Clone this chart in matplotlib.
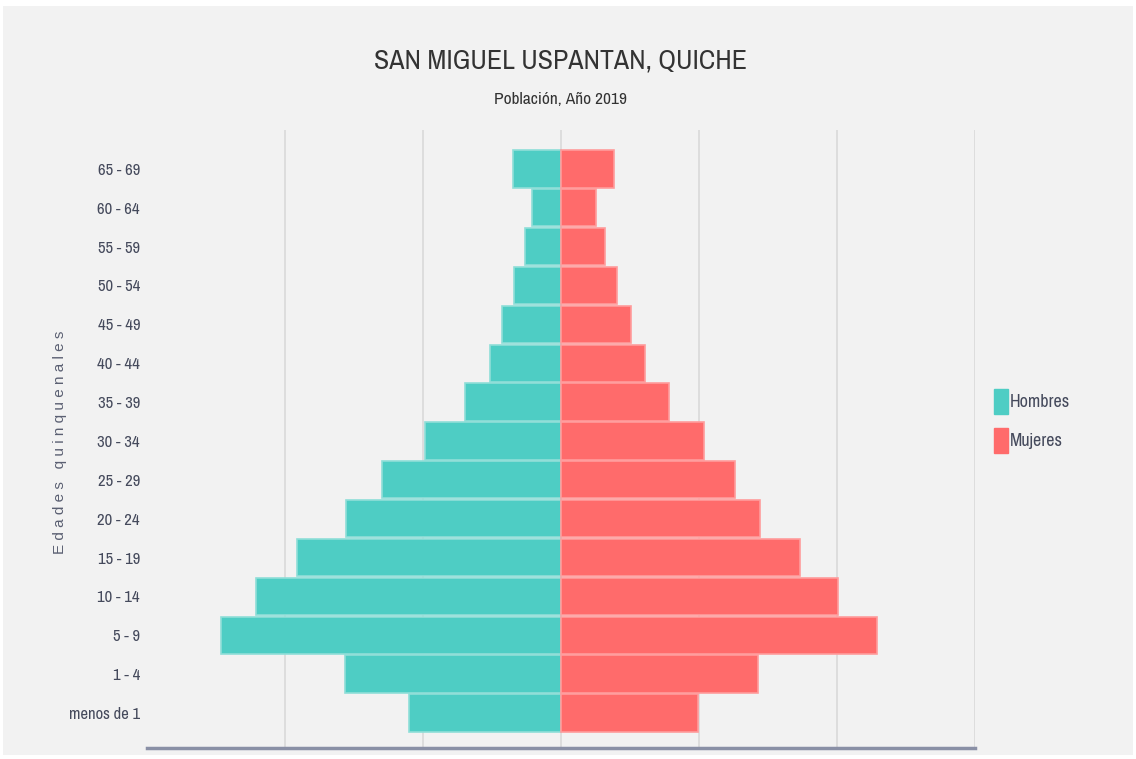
import matplotlib.pyplot as plt
import matplotlib.patches as mpatches
from matplotlib import font_manager

# age groups, bottom to top
grupos = ["menos de 1", "1 - 4", "5 - 9", "10 - 14", "15 - 19", "20 - 24",
          "25 - 29", "30 - 34", "35 - 39", "40 - 44", "45 - 49", "50 - 54",
          "55 - 59", "60 - 64", "65 - 69"]
hombres = [2200, 3130, 4930, 4420, 3830, 3120, 2590, 1970, 1390, 1030, 855,
           680, 520, 420, 700]
mujeres = [1990, 2860, 4580, 4010, 3460, 2880, 2520, 2070, 1570, 1220, 1010,
           810, 640, 510, 770]

names = {f.name for f in font_manager.fontManager.ttflist}
narrow = "Liberation Sans"
for cand in ["Liberation Sans Narrow", "Arial Narrow", "Archivo Narrow",
             "PT Sans Narrow", "Roboto Condensed"]:
    if cand in names:
        narrow = cand
        break

c_h = "#4ECDC4"
c_m = "#FF6B6B"
bg = "#F2F2F2"
txt = "#454a5c"

fig = plt.figure(figsize=(11.36, 7.59), dpi=100, facecolor="white")
fig.patches.append(mpatches.Rectangle((3 / 1136, 4 / 759), 1130 / 1136, 749 / 759,
                                      transform=fig.transFigure, facecolor=bg,
                                      edgecolor="none", zorder=-10))
ax = fig.add_axes([147 / 1136, 11 / 759, 828 / 1136, 618 / 759])
ax.set_facecolor(bg)
ax.patch.set_alpha(0)

y = list(range(len(grupos)))
ax.barh(y, [-v for v in hombres], height=0.96, color=c_h,
        edgecolor="#8fded8", linewidth=1.2, zorder=3)
ax.barh(y, mujeres, height=0.96, color=c_m,
        edgecolor="#ff9c9c", linewidth=1.2, zorder=3)

ax.set_xlim(-6000, 6000)
ax.set_ylim(-0.9, 15.0)
for gx in [-4000, -2000, 0, 2000, 4000, 6000]:
    ax.axvline(gx, color="#d9d9d9", lw=1.2, zorder=1)

ax.set_xticks([])
ax.set_yticks(y)
ax.set_yticklabels(grupos, fontfamily=narrow, fontsize=12, color=txt)
ax.tick_params(axis="y", length=0, pad=5)
for s in ["top", "right", "left"]:
    ax.spines[s].set_visible(False)
ax.spines["bottom"].set_color("#8a90a6")
ax.spines["bottom"].set_linewidth(2.5)

fig.text(60 / 1136, 1 - 442 / 759, "E d a d e s   q u i n q u e n a l e s",
         rotation=90, ha="center", va="center", fontsize=11, color="#5a5f72",
         fontfamily="Liberation Sans")
fig.text(560 / 1136, 1 - 61 / 759, "SAN MIGUEL USPANTAN, QUICHE", ha="center",
         va="center", fontsize=20, color="#333333", fontfamily=narrow)
fig.text(560 / 1136, 1 - 100 / 759, "Población, Año 2019", ha="center",
         va="center", fontsize=12.5, color="#333333", fontfamily=narrow)

handles = [mpatches.Patch(color=c_h, label="Hombres"),
           mpatches.Patch(color=c_m, label="Mujeres")]
leg = fig.legend(handles=handles, loc="center left",
                 bbox_to_anchor=(978 / 1136, 1 - 421 / 759), frameon=False,
                 prop={"family": narrow, "size": 13}, handlelength=0.75,
                 handleheight=1.8, handletextpad=0.1, labelspacing=0.75)
for t in leg.get_texts():
    t.set_color(txt)

fig.savefig("out.png", dpi=100, facecolor="white")
